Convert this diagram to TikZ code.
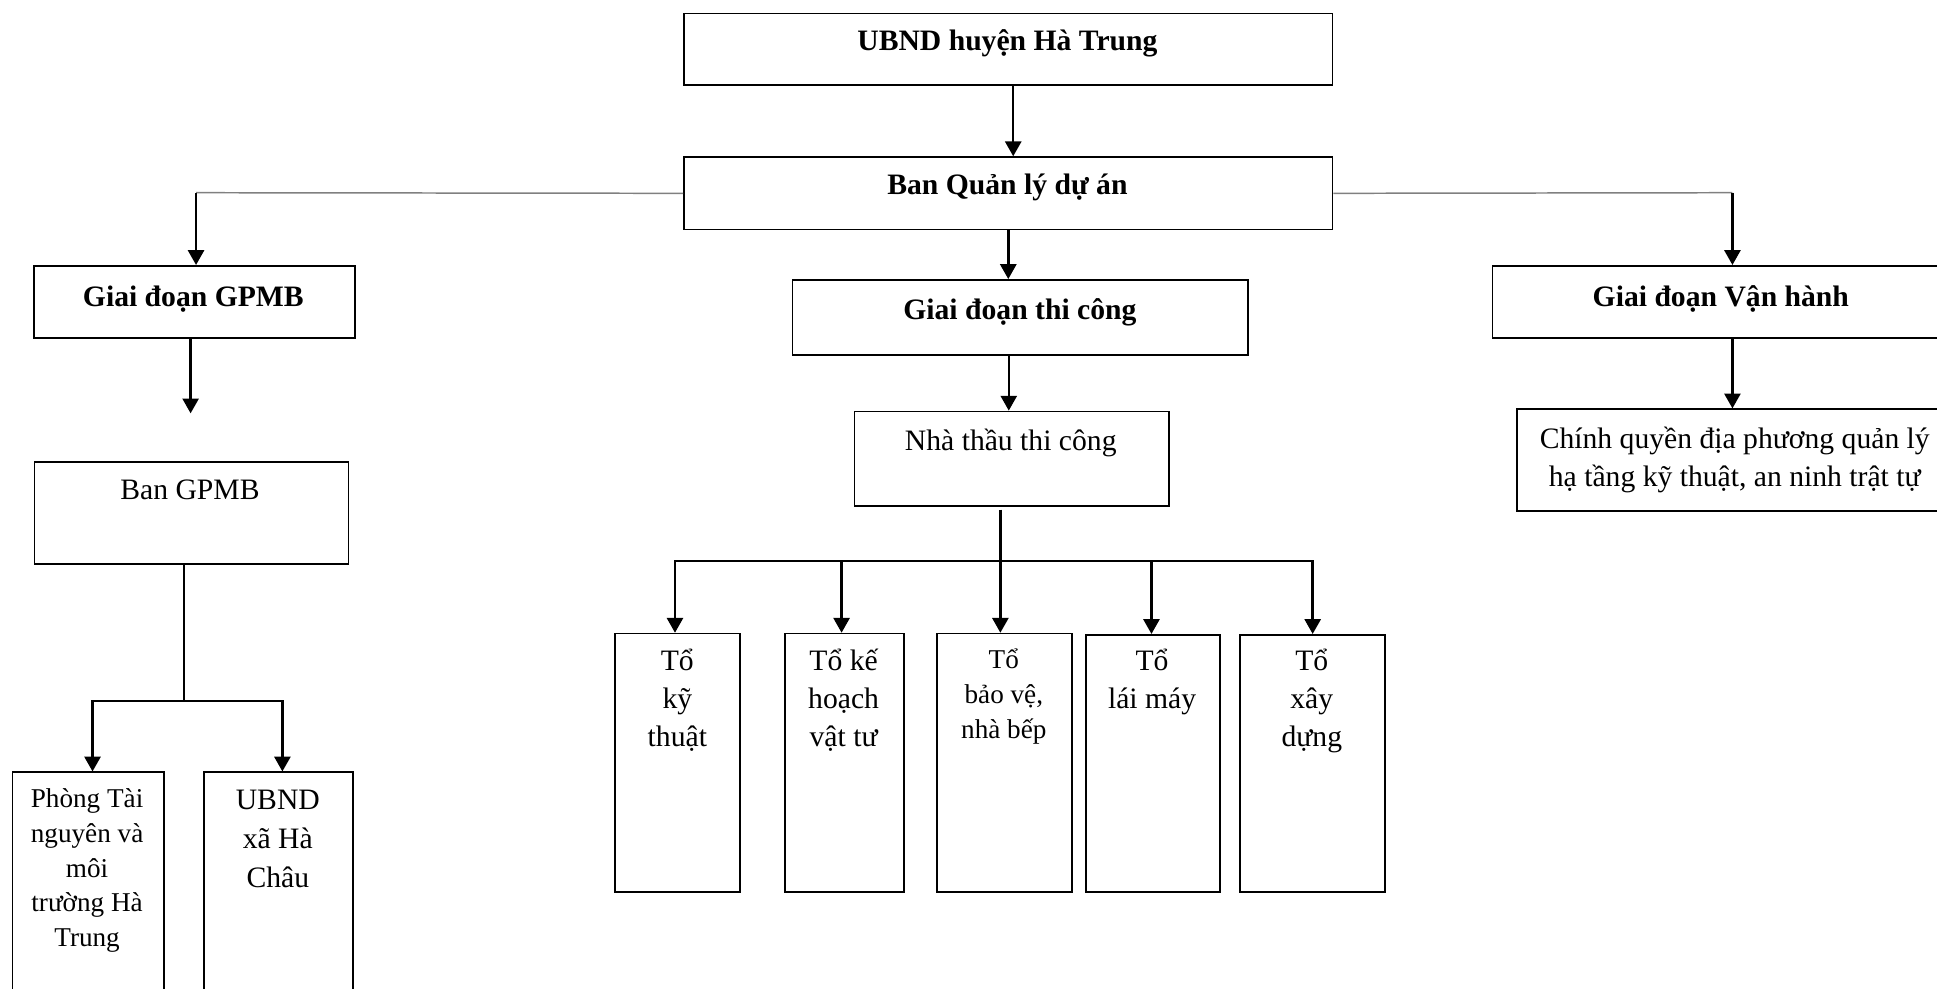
\documentclass[tikz,border=0pt]{standalone}
\usepackage{fontspec}
\setmainfont{Liberation Serif}
\usetikzlibrary{arrows.meta}

\tikzset{
  box/.style = {draw, line width = 0.7pt, anchor = north west, inner sep = 0pt},
  txt/.style = {anchor = base, align = center, inner sep = 0pt, font = \fontsize{12}{15.5}\selectfont},
  btxt/.style = {anchor = base, align = center, inner sep = 0pt, font = \fontsize{12}{15.5}\selectfont\bfseries},
  stxt/.style = {anchor = base, align = center, inner sep = 0pt, font = \fontsize{11}{14.2}\selectfont},
  link/.style = {line width = 1pt, -{Triangle[width = 6.5pt, length = 6pt]}},
  feed/.style = {line width = 0.6pt, draw = gray},
}

\begin{document}
\begin{tikzpicture}[x = 0.5pt, y = -0.5pt]
\useasboundingbox (0,0) rectangle (1568,800.6);
\clip (0,0) rectangle (1568,800.6);

% boxes
\node[box, minimum width = 262.5pt, minimum height = 29pt] (ubnd) at (553,10.3) {};
\node[box, minimum width = 262.5pt, minimum height = 29.3pt] (bql) at (553,126.5) {};
\node[box, minimum width = 129.8pt, minimum height = 29.3pt] (gpmb) at (27,214.5) {};
\node[box, minimum width = 184.5pt, minimum height = 30.35pt] (tc) at (640.8,225.9) {};
\node[box, minimum width = 210pt, minimum height = 29.3pt] (vh) at (1207.5,214.5) {};
\node[box, minimum width = 127pt, minimum height = 41.5pt] (bgp) at (27.3,373) {};
\node[box, minimum width = 61.4pt, minimum height = 100pt] (ptn) at (9.4,624.5) {};
\node[box, minimum width = 60.3pt, minimum height = 100pt] (xhc) at (164.6,624.5) {};
\node[box, minimum width = 127.4pt, minimum height = 38.35pt] (ntc) at (691,332.4) {};
\node[box, minimum width = 190pt, minimum height = 41.15pt] (cq) at (1227,330.6) {};
\node[box, minimum width = 50.8pt, minimum height = 104.55pt] (t1) at (496.9,512.2) {};
\node[box, minimum width = 48.15pt, minimum height = 104.55pt] (t2) at (634.8,512.2) {};
\node[box, minimum width = 54.7pt, minimum height = 104.55pt] (t3) at (757.9,512.2) {};
\node[box, minimum width = 54.1pt, minimum height = 104.05pt] (t4) at (878.5,513.2) {};
\node[box, minimum width = 58.6pt, minimum height = 104.05pt] (t5) at (1003.3,513.2) {};

% texts (base = last line)
\node[btxt] (ubnd-t) at (815.5,41) {UBND huyện Hà Trung};
\node[btxt] (bql-t) at (815.5,157.3) {Ban Quản lý dự án};
\node[btxt] (gpmb-t) at (156.5,248.3) {Giai đoạn GPMB};
\node[btxt] (tc-t) at (825.6,259) {Giai đoạn thi công};
\node[btxt] (vh-t) at (1393,248.3) {Giai đoạn Vận hành};
\node[txt] (bgp-t) at (153.8,404.5) {Ban GPMB};
\node[stxt, font = \fontsize{11}{14}\selectfont] (ptn-t) at (70.5,766) {Phòng Tài\\nguyên và\\môi\\trường Hà\\Trung};
\node[txt, font = \fontsize{12}{15.75}\selectfont] (xhc-t) at (224.9,718.5) {UBND\\xã Hà\\Châu};
\node[txt] (ntc-t) at (818.2,364.3) {Nhà thầu thi công};
\node[txt] (cq-t) at (1404.3,394) {Chính quyền địa phương quản lý\\hạ tầng kỹ thuật, an ninh trật tự};
\node[txt] (t1-t) at (548.3,604.4) {Tổ\\kỹ\\thuật};
\node[txt] (t2-t) at (682.9,604.4) {Tổ kế\\hoạch\\vật tư};
\node[stxt] (t3-t) at (812.6,597.6) {Tổ\\bảo vệ,\\nhà bếp};
\node[txt] (t4-t) at (932.6,573.4) {Tổ\\lái máy};
\node[txt] (t5-t) at (1061.9,604.4) {Tổ\\xây\\dựng};

% connectors
\coordinate (lj) at (158.7,156);
\coordinate (rj) at (1402.4,156);
\coordinate (gend) at (154.3,334.6);
\coordinate (bj) at (149,567.3);
\coordinate (nj) at (809.8,454.1);

\draw[link] ([xshift = 2pt]ubnd.south) -- ([xshift = 2pt]bql.north);
\draw[link] (bql.south) -- (bql.south |- tc.north);
\draw[feed] (bql.west) -- (lj);
\draw[link] (lj) -- (lj |- gpmb.north);
\draw[feed] (bql.east) -- (rj);
\draw[link] (rj) -- (rj |- vh.north);
\draw[link] (gend |- gpmb.south) -- (gend);
\draw[link] (rj |- vh.south) -- (rj |- cq.north);

\draw[line width = 1pt] (bj |- bgp.south) -- (bj);
\draw[link] (bj) -| ([xshift = 1.7pt]ptn.north);
\draw[link] (bj) -| ([xshift = 1.5pt]xhc.north);

\draw[link] ([xshift = -4.7pt]tc.south) -- ([xshift = -4.7pt]tc.south |- ntc.north);
\draw[link] ([yshift = -1pt]nj |- ntc.south) -- (nj |- t3.north);
\draw[link] (nj) -| ([xshift = -1pt]t1.north);
\draw[link] (nj) -| ([xshift = -1.2pt]t2.north);
\draw[link] (nj) -| ([xshift = -0.6pt]t4.north);
\draw[link] (nj) -| (t5.north);
\end{tikzpicture}
\end{document}
